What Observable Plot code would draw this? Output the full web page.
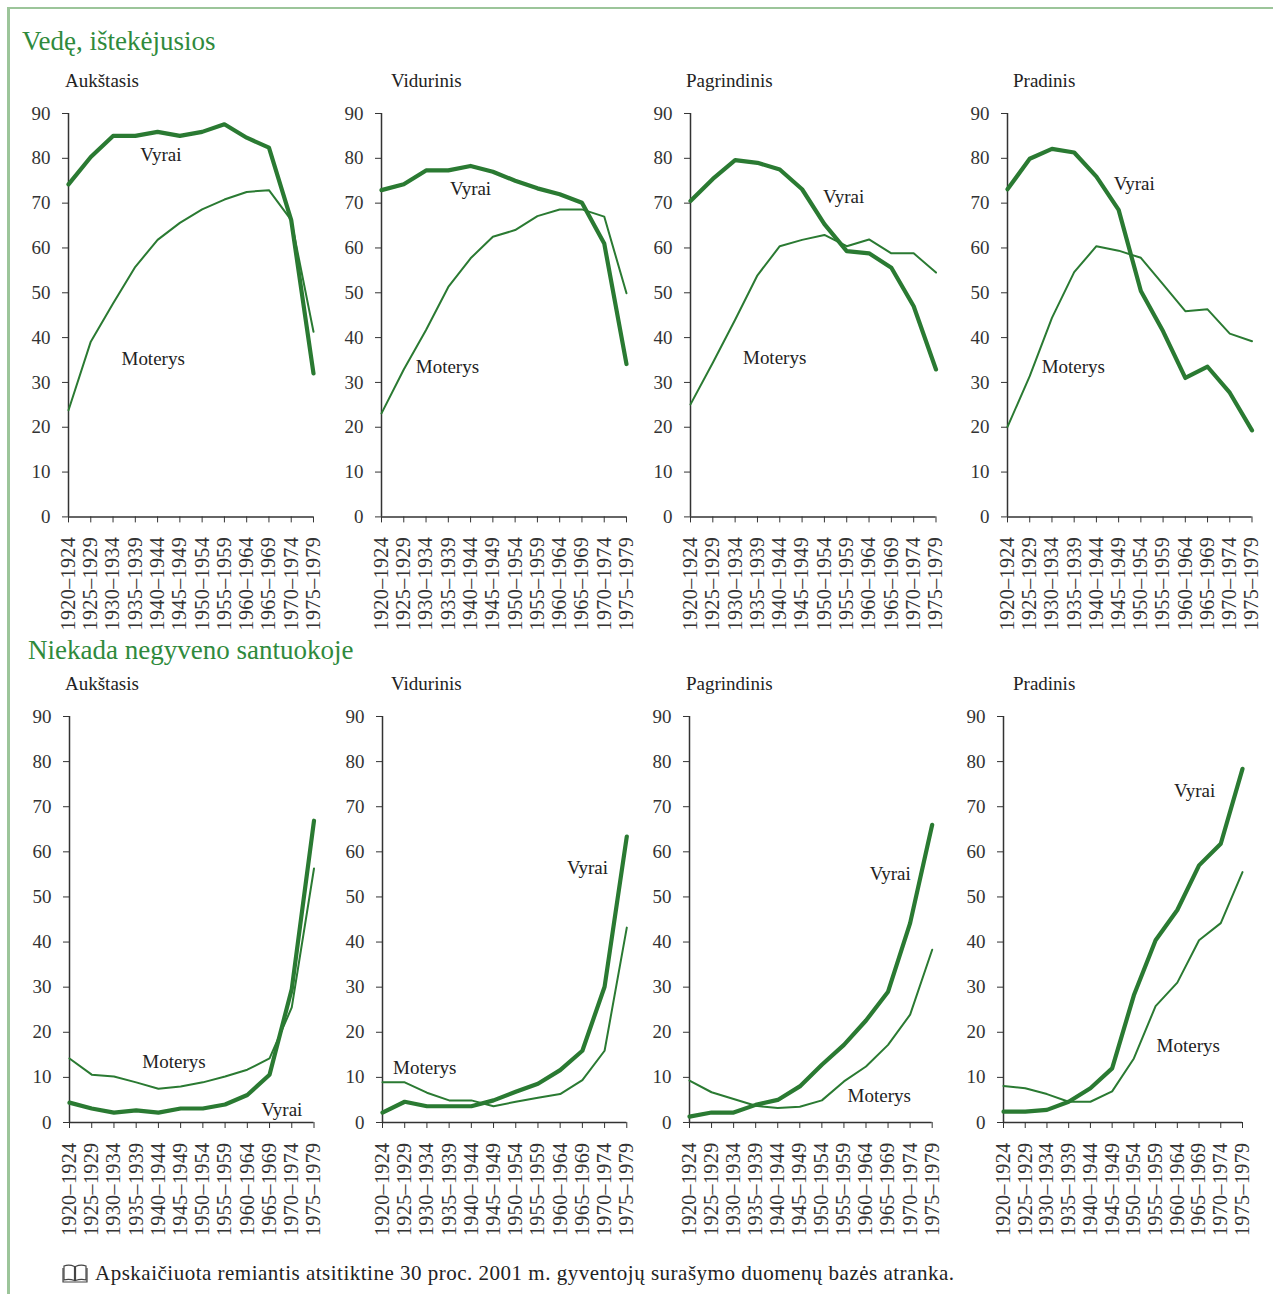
<!DOCTYPE html>
<html><head><meta charset="utf-8">
<script src="https://cdn.jsdelivr.net/npm/d3@7"></script>
<script src="https://cdn.jsdelivr.net/npm/@observablehq/plot@0.6"></script>
<style>
body{margin:0;background:#fff;}
#wrap{position:relative;width:1273px;height:1294px;overflow:hidden;font-family:"Liberation Serif",serif;color:#222;}
.abs{position:absolute;white-space:nowrap;line-height:1;}
.frame{position:absolute;left:7px;top:7px;width:1300px;height:1300px;border-top:2px solid #9cc59a;border-left:3px solid #9cc59a;}
.title{color:#2f8a3c;font-size:27px;}
.sub{font-size:19px;color:#222;}
.plot{position:absolute;}
.plot g[aria-label="x-axis tick label"] text{letter-spacing:0.4px;}
</style></head><body><div id="wrap"><div class="frame"></div></div>
<script>
const cohorts = ["1920–1924","1925–1929","1930–1934","1935–1939","1940–1944","1945–1949","1950–1954","1955–1959","1960–1964","1965–1969","1970–1974","1975–1979"];
const educationLevels = ["Aukštasis","Vidurinis","Pagrindinis","Pradinis"];
const sectionTitles = ["Vedę, ištekėjusios","Niekada negyveno santuokoje"];
const seriesNames = ["Vyrai","Moterys"];
const yTicks = [0,10,20,30,40,50,60,70,80,90];

// Vedę, ištekėjusios (%)
const marriedMenHigher      = [74.2,80.3,85.0,85.0,85.9,85.0,85.9,87.6,84.6,82.4,66.2,32.0];
const marriedWomenHigher    = [23.8,39.1,47.6,55.8,61.8,65.6,68.6,70.8,72.5,72.9,66.2,41.3];
const marriedMenSecondary   = [72.9,74.2,77.3,77.3,78.3,77.0,75.0,73.3,72.0,70.1,61.0,34.1];
const marriedWomenSecondary = [23.1,32.9,41.7,51.3,57.7,62.5,64.0,67.1,68.6,68.6,67.0,49.9];
const marriedMenBasic       = [70.5,75.4,79.6,79.0,77.5,73.1,65.3,59.3,58.8,55.6,47.0,32.9];
const marriedWomenBasic     = [25.1,34.4,44.0,53.9,60.4,61.8,62.9,60.4,61.9,58.8,58.8,54.5];
const marriedMenPrimary     = [73.1,79.9,82.1,81.3,75.9,68.5,50.4,41.4,31.0,33.5,27.7,19.3];
const marriedWomenPrimary   = [20.1,31.4,44.4,54.6,60.4,59.4,57.8,51.9,45.9,46.3,40.9,39.2];

// Niekada negyveno santuokoje (%)
const neverMenHigher        = [4.4,3.1,2.2,2.7,2.2,3.1,3.1,4.0,6.1,10.6,29.6,66.9];
const neverWomenHigher      = [14.2,10.6,10.2,8.9,7.5,8.0,8.9,10.2,11.7,14.2,25.5,56.3];
const neverMenSecondary     = [2.2,4.6,3.6,3.6,3.6,4.9,6.8,8.6,11.6,15.9,30.1,63.4];
const neverWomenSecondary   = [8.9,8.9,6.6,4.9,4.9,3.6,4.6,5.5,6.3,9.4,15.9,43.2];
const neverMenBasic         = [1.3,2.2,2.2,3.9,5.0,8.0,12.8,17.2,22.6,29.0,44.2,66.0];
const neverWomenBasic       = [9.3,6.7,5.2,3.7,3.2,3.5,4.9,9.1,12.4,17.2,23.9,38.3];
const neverMenPrimary       = [2.4,2.4,2.8,4.6,7.6,12.0,28.2,40.4,47.1,57.0,61.8,78.4];
const neverWomenPrimary     = [8.1,7.6,6.3,4.6,4.6,6.9,14.2,25.8,31.0,40.4,44.2,55.5];

const rows = [
  {title: sectionTitles[0], men: [marriedMenHigher, marriedMenSecondary, marriedMenBasic, marriedMenPrimary],
   women: [marriedWomenHigher, marriedWomenSecondary, marriedWomenBasic, marriedWomenPrimary]},
  {title: sectionTitles[1], men: [neverMenHigher, neverMenSecondary, neverMenBasic, neverMenPrimary],
   women: [neverWomenHigher, neverWomenSecondary, neverWomenBasic, neverWomenPrimary]}
];

// layout (pixel geometry of each panel)
const layout = [
  {titleX: 22, titleY: 28, subY: 71, y90: 113.3, y0: 516.7,
   axes: [[67.5,312.5],[381,626],[690,935.5],[1006.5,1251]],
   subX: [65, 391, 686, 1013],
   labels: [[[4.15,80.7],[3.8,35.2]],[[4.0,73.1],[2.96,33.5]],[[6.86,71.5],[3.77,35.4]],[[5.7,74.4],[2.96,33.5]]]},
  {titleX: 28, titleY: 637, subY: 674, y90: 716.3, y0: 1122.3,
   axes: [[68.5,313],[381.7,626],[689,931.7],[1002.7,1241.7]],
   subX: [65, 391, 686, 1013],
   labels: [[[9.55,2.9],[4.7,13.4]],[[9.23,56.4],[1.9,12.0]],[[9.1,55.0],[8.6,6.0]],[[8.8,73.6],[8.5,16.9]]]}
];

const green = "#2a7a32";
const ink = "#333";
const font = "Liberation Serif";
const wrap = document.getElementById("wrap");

function addText(txt, cls, x, y) {
  const d = document.createElement("div");
  d.className = "abs " + cls;
  d.style.left = x + "px"; d.style.top = y + "px";
  d.textContent = txt;
  wrap.appendChild(d);
}

rows.forEach((row, r) => {
  const L = layout[r];
  addText(row.title, "title", L.titleX, L.titleY);
  for (let p = 0; p < 4; p++) {
    addText(educationLevels[p], "sub", L.subX[p], L.subY);
    const [ax, lx] = L.axes[p];
    const mL = 55, mR = 12, mT = 10, mB = 125;
    const plotH = L.y0 - L.y90;
    const men = row.men[p], women = row.women[p];
    const lab = L.labels[p];
    const chart = Plot.plot({
      width: mL + (lx - ax) + mR,
      height: mT + plotH + mB,
      marginLeft: mL, marginRight: mR, marginTop: mT, marginBottom: mB,
      style: {fontFamily: font, fontSize: "19px", color: ink, background: "transparent", overflow: "visible"},
      x: {domain: [0, cohorts.length - 1]},
      y: {domain: [0, 90]},
      marks: [
        Plot.axisY({ticks: yTicks, tickSize: 6, tickPadding: 12, fontSize: 19, label: null, stroke: ink}),
        Plot.axisX({ticks: d3.range(cohorts.length), tickFormat: i => cohorts[i], tickRotate: -90,
                    tickSize: 6, tickPadding: 14, fontSize: 20, label: null, stroke: ink}),
        Plot.ruleX([0], {stroke: ink, strokeWidth: 1.5}),
        Plot.ruleY([0], {stroke: ink, strokeWidth: 1.5}),
        Plot.lineY(women, {x: (d, i) => i, y: d => d, stroke: green, strokeWidth: 2}),
        Plot.lineY(men, {x: (d, i) => i, y: d => d, stroke: green, strokeWidth: 4.2, strokeLinejoin: "round"}),
        Plot.text([seriesNames[0]], {x: lab[0][0], y: lab[0][1], text: d => d, fill: "#222", fontSize: 19, fontFamily: font}),
        Plot.text([seriesNames[1]], {x: lab[1][0], y: lab[1][1], text: d => d, fill: "#222", fontSize: 19, fontFamily: font})
      ]
    });
    chart.classList.add("plot");
    chart.style.left = (ax - mL) + "px";
    chart.style.top = (L.y90 - mT) + "px";
    wrap.appendChild(chart);
  }
});

// caption with book icon
const cap = document.createElement("div");
cap.className = "abs";
cap.style.left = "62px"; cap.style.top = "1263px"; cap.style.fontSize = "21px"; cap.style.letterSpacing = "0.5px"; cap.style.color = "#222";
cap.innerHTML = '<svg width="26" height="20" viewBox="0 0 26 20" style="vertical-align:-3px;margin-right:7px"><g fill="none" stroke="#444" stroke-width="1.2"><path d="M2 3 Q7 1 12.5 3.5 L12.5 17.5 Q7 15.5 2 17 Z"/><path d="M24 3 Q19 1 13.5 3.5 L13.5 17.5 Q19 15.5 24 17 Z"/><path d="M1 5 L1 19 L25 19 L25 5"/></g></svg>' +
  'Apskaičiuota remiantis atsitiktine 30 proc. 2001 m. gyventojų surašymo duomenų bazės atranka.';
wrap.appendChild(cap);
</script>
</body></html>
